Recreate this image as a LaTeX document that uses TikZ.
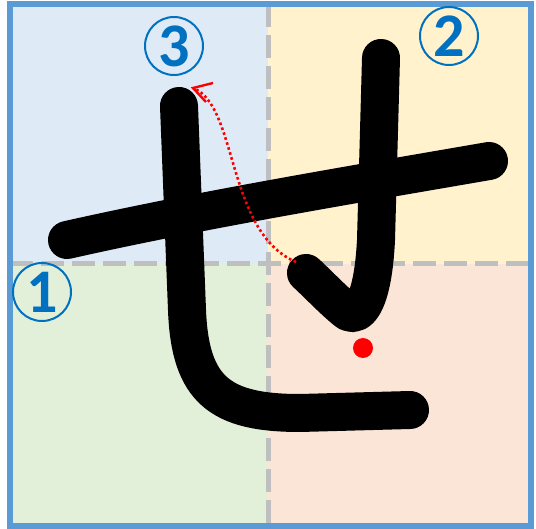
\documentclass[tikz,border=0pt]{standalone}
\usepackage{fontspec}
\setmainfont{Carlito}
\usetikzlibrary{arrows.meta,calc}
\definecolor{qtl}{HTML}{DEEBF7}
\definecolor{qtr}{HTML}{FFF2CC}
\definecolor{qbl}{HTML}{E2F0D9}
\definecolor{qbr}{HTML}{FBE5D6}
\definecolor{framec}{HTML}{5B9BD5}
\definecolor{gridc}{HTML}{BFBFBF}
\definecolor{numc}{HTML}{0070C0}
\definecolor{redc}{HTML}{FF0000}
\tikzset{
  gridline/.style={draw=gridc, line width=5pt, dash pattern=on 23pt off 8pt},
  brush/.style={draw=black, line width=38pt, line cap=round, line join=round},
  circnum/.style={circle, draw=numc, line width=2pt, minimum size=58pt, inner sep=0pt,
    text=numc, font=\fontsize{62}{62}\selectfont\bfseries},
  order/.style={draw=redc, line width=2.6pt, dash pattern=on 2.6pt off 2.6pt},
  barb/.style={draw=redc, line width=2.4pt, line join=miter},
}
\begin{document}
\begin{tikzpicture}[x=1pt,y=-1pt]
\useasboundingbox (0,0) rectangle (536,529);
% quadrants
\fill[qtl] (10,4) rectangle (268,264);
\fill[qtr] (268,4) rectangle (531,264);
\fill[qbl] (10,264) rectangle (268,526);
\fill[qbr] (268,264) rectangle (531,526);
% guide lines
\draw[gridline] (268,4) -- (268,526);
\draw[gridline] (10,264) -- (531,264);
% frame
\draw[framec, line width=6pt] (10,4) rectangle (531,526);
% strokes
\coordinate (s1a) at (67,240);
\coordinate (s1b) at (489,161);
\draw[brush] (s1a) .. controls (200,210) and (350,185) .. (s1b);
\coordinate (s2a) at (381,58);
\coordinate (s2b) at (306,273);
\draw[brush] (s2a) -- (376,240) .. controls (373,300) and (360,318) .. (348,312)
  .. controls (335,302) and (320,286) .. (s2b);
\coordinate (s3a) at (179,106);
\coordinate (s3b) at (410,410);
\draw[brush] (s3a) -- (187,310) .. controls (190,390) and (220,413) .. (300,413) -- (s3b);
% start dot
\fill[redc] (363,348) circle (10pt);
% order arrow
\coordinate (arrS) at (296,262);
\coordinate (arrE) at (193,88);
\draw[order] (arrS) .. controls (226,232) and (238,105) .. (arrE);
\draw[barb] ($(arrE)+(20,-5)$) -- (arrE) -- ++(13,14);
% numbers
\node[circnum] (n1) at (42,292) {1};
\node[circnum] (n2) at (449,36) {2};
\node[circnum] (n3) at (174,46) {3};
\end{tikzpicture}
\end{document}
